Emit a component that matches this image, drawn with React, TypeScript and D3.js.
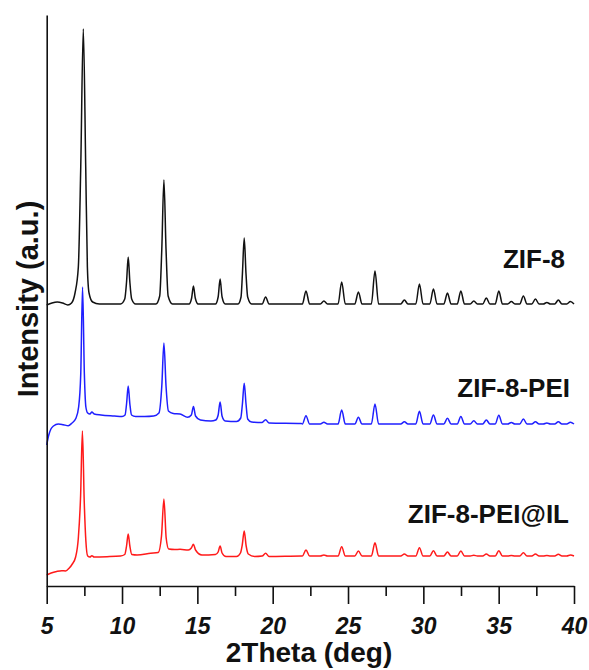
import React, { useEffect, useRef } from "react";
import * as d3 from "d3";

// XRD patterns, 2Theta (deg) vs intensity (a.u.), each relative to its own offset
const zif8Low: [number, number][] = [
  [5.0, -1], [5.35, 1], [5.7, 2], [6.05, 1], [6.4, -1], [6.65, 1], [6.88, 11], [7.1, 37],
  [7.26, 137], [7.43, 275], [7.59, 137], [7.7, 37], [7.81, 11], [8.05, 2], [8.5, 0], [9.9, 0],
  [10.18, 5], [10.3, 22], [10.41, 47], [10.52, 22], [10.64, 5], [10.9, 0], [12.25, 0],
  [12.5, 8], [12.64, 55], [12.78, 124], [12.92, 55], [13.06, 8], [13.35, 0], [14.45, 0],
  [14.62, 6], [14.74, 18], [14.86, 6], [15.05, 0], [16.2, 0], [16.38, 7], [16.51, 25],
  [16.64, 7], [16.85, 0], [17.7, 0], [17.9, 7], [17.99, 30], [18.11, 66], [18.23, 30],
  [18.34, 7], [18.6, 0], [19.3, 0], [19.53, 7], [19.76, 0], [21.9, 0],
];

const peiLow: [number, number][] = [
  [5.0, -21], [5.12, -12], [5.28, -5], [5.45, -2], [5.77, 0], [6.1, -0.7], [6.43, -1.7],
  [6.66, 0.7], [6.94, 5.7], [7.12, 17], [7.26, 50], [7.38, 137], [7.5, 50], [7.6, 17],
  [7.72, 11], [7.87, 10], [8.0, 12], [8.15, 10], [8.6, 9], [9.5, 8], [10.0, 7.5],
  [10.2, 9], [10.3, 20], [10.41, 38], [10.52, 20], [10.63, 9], [10.9, 7.5], [11.5, 7.5],
  [12.1, 8], [12.45, 11], [12.64, 38], [12.78, 81], [12.92, 38], [13.08, 13], [13.4, 10.5],
  [13.85, 10], [14.35, 6.7], [14.6, 9], [14.74, 17.5], [14.88, 8], [15.2, 4], [15.9, 3],
  [16.22, 4], [16.38, 9], [16.51, 22], [16.64, 8], [16.85, 3], [17.6, 2.5], [17.88, 6],
  [17.99, 20], [18.11, 40.7], [18.23, 20], [18.34, 5], [18.6, 2], [19.3, 1.5], [19.53, 4.3],
  [19.76, 1], [21.9, 0.5],
];

const ilLow: [number, number][] = [
  [5.0, -19], [5.3, -17], [5.66, -15.5], [6.0, -14.7], [6.25, -15], [6.5, -12], [6.7, -8],
  [6.92, -1], [7.1, 18], [7.25, 60], [7.37, 125], [7.49, 55], [7.6, 15], [7.72, 0],
  [7.87, -1], [8.0, 0.3], [8.15, -1], [9.0, -0.7], [9.9, 0], [10.18, 1.5], [10.3, 10],
  [10.41, 22], [10.52, 10], [10.65, 1.5], [11.0, 1], [11.9, 2.7], [12.4, 3.5], [12.62, 20],
  [12.78, 57], [12.93, 18], [13.1, 7], [13.5, 6.5], [13.85, 6.7], [14.4, 6], [14.6, 8],
  [14.74, 11.7], [14.88, 6], [15.3, 1], [16.2, 1.5], [16.38, 4], [16.51, 10], [16.64, 3],
  [16.9, -0.5], [17.6, -0.5], [17.86, 3], [17.98, 11], [18.11, 25], [18.24, 10], [18.38, 2],
  [18.8, -0.5], [19.3, 0], [19.53, 2.7], [19.76, -0.5], [21.9, 0],
];

// small reflections above 22 deg, same positions for all three samples
const minorPeakPos = [22.21, 23.4, 24.58, 25.69, 26.79, 28.74, 29.74, 30.67, 31.6, 32.49, 33.35, 34.18, 35.01, 35.84, 36.64, 37.44, 38.2, 38.96, 39.76];
const zif8Minor = [13, 3, 22, 12, 33, 4, 20, 15, 11, 13, 3, 6, 13, 2.5, 8, 5, 1.5, 4, 2.5];
const peiMinor = [8.3, 1.7, 14, 6.7, 20, 2.3, 12.7, 9, 5.7, 7.5, 3.3, 4, 8.7, 1.5, 5, 2.3, 1, 2.3, 1.7];
const ilMinor = [6, 1, 9.3, 5, 13.3, 2, 8.3, 5.3, 4, 5, 0.7, 2, 5.3, 0.5, 3.3, 2, 0.5, 1.7, 1];

const seriesNames = ["ZIF-8", "ZIF-8-PEI", "ZIF-8-PEI@IL"];
const seriesOffsets = [282, 162, 30];
const seriesColors = ["#111111", "#1f1fff", "#ff1a1a"];

const majorTicks = [5, 10, 15, 20, 25, 30, 35, 40];
const minorTicks = [7.5, 12.5, 17.5, 22.5, 27.5, 32.5, 37.5];

const font = "Arial, 'Liberation Sans', sans-serif";

function buildPattern(low: [number, number][], tops: number[]): [number, number][] {
  const pts: [number, number][] = low.slice();
  minorPeakPos.forEach((p, i) => {
    pts.push([p - 0.24, 0], [p, tops[i]], [p + 0.24, 0]);
  });
  pts.push([40, 0]);
  return pts;
}

export default function App() {
  const xAxisRef = useRef<SVGGElement>(null);
  const yAxisRef = useRef<SVGGElement>(null);

  const width = 589;
  const height = 670;
  const margin = { top: 15, right: 15, bottom: 84, left: 46.7 };

  const x = d3.scaleLinear().domain([5, 40]).range([margin.left, 574]);
  const y = d3.scaleLinear().domain([0, 571]).range([height - margin.bottom, margin.top]);

  const patterns = [
    buildPattern(zif8Low, zif8Minor),
    buildPattern(peiLow, peiMinor),
    buildPattern(ilLow, ilMinor),
  ];

  useEffect(() => {
    //bottom axis, major ticks with labels
    const gx = d3.select(xAxisRef.current);
    gx.selectAll("*").remove();
    gx.append("g")
      .call(
        d3.axisBottom(x).tickValues(majorTicks).tickSize(18).tickSizeOuter(0)
          .tickPadding(14).tickFormat(d3.format("d"))
      );
    gx.append("g")
      .call(d3.axisBottom(x).tickValues(minorTicks).tickSize(10).tickFormat(() => ""))
      .select(".domain").remove();
    gx.selectAll("line, path").attr("stroke", "#111").attr("stroke-width", 1.6);
    gx.selectAll("text")
      .attr("font-family", font)
      .attr("font-size", 23)
      .attr("font-weight", "bold")
      .attr("font-style", "italic")
      .attr("fill", "#111");

    //left axis, just the line
    const gy = d3.select(yAxisRef.current);
    gy.selectAll("*").remove();
    gy.call(d3.axisLeft(y).tickValues([]).tickSizeOuter(0));
    gy.selectAll("path").attr("stroke", "#111").attr("stroke-width", 1.6);
  }, []);

  const labelPos = [
    { x: 565, y: 268 },
    { x: 570, y: 397 },
    { x: 569, y: 523 },
  ];

  return (
    <svg width={width} height={height} style={{ position: "absolute", left: 0, top: 0, background: "#fff" }}>
      {patterns.map((pts, i) => {
        const line = d3
          .line<[number, number]>()
          .x((d) => x(d[0]))
          .y((d) => y(seriesOffsets[i] + d[1]))
          .curve(d3.curveMonotoneX);
        return (
          <path key={seriesNames[i]} d={line(pts) || ""} fill="none" stroke={seriesColors[i]} strokeWidth={1.5} strokeLinejoin="round" />
        );
      })}
      <g ref={xAxisRef} transform={`translate(0,${height - margin.bottom})`} />
      <g ref={yAxisRef} transform={`translate(${margin.left},0)`} />
      {seriesNames.map((name, i) => (
        <text key={name} x={labelPos[i].x} y={labelPos[i].y} textAnchor="end" fontFamily={font} fontSize={26} fontWeight="bold" fill="#111">
          {name}
        </text>
      ))}
      <text x={309} y={662} textAnchor="middle" fontFamily={font} fontSize={28} fontWeight="bold" fill="#111">
        2Theta (deg)
      </text>
      <text transform="translate(38,299) rotate(-90)" textAnchor="middle" fontFamily={font} fontSize={29} fontWeight="bold" fill="#111">
        Intensity (a.u.)
      </text>
    </svg>
  );
}
